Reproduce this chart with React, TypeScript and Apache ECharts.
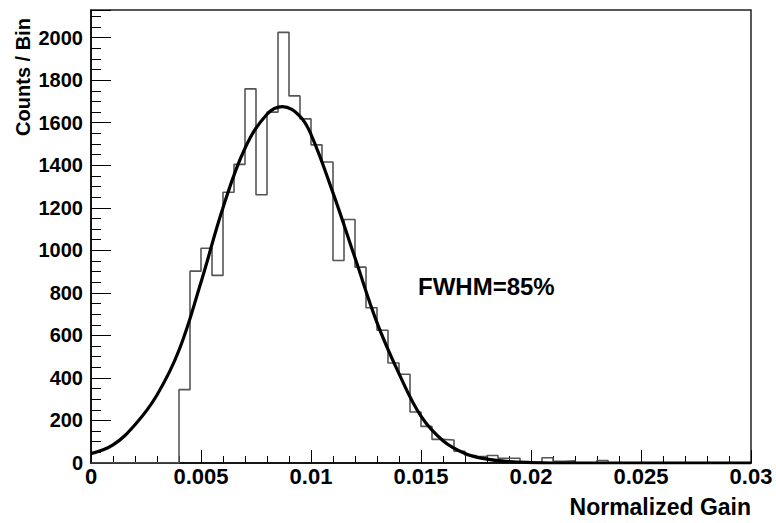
import React, { useEffect, useRef } from "react";
import * as echarts from "echarts";

// Histogram: bin width 0.0005, 60 bins from 0 to 0.03
const binWidth = 0.0005;
const binCounts = [
  0, 0, 0, 0, 0, 0, 0, 0, 345, 902,
  1010, 882, 1273, 1404, 1759, 1261, 1650, 2025, 1726, 1618,
  1496, 1415, 952, 1145, 921, 730, 624, 470, 417, 240,
  172, 111, 108, 55, 35, 30, 35, 22, 22, 0,
  0, 25, 8, 10, 0, 0, 12, 0, 0, 0,
  0, 0, 0, 0, 0, 0, 0, 0, 0, 0,
];

// Fit curve
const fitX = [0, 0.001, 0.002, 0.003, 0.004, 0.005, 0.006, 0.007, 0.008, 0.0087, 0.0095, 0.01, 0.011, 0.012, 0.013, 0.014, 0.015, 0.016, 0.017, 0.018, 0.019, 0.02, 0.021, 0.022, 0.025, 0.03];
const fitY = [44, 85, 180, 320, 530, 850, 1200, 1480, 1640, 1676, 1630, 1545, 1270, 965, 660, 420, 220, 105, 45, 18, 7, 2, 0, 0, 0, 0];

const xTicks = ["0", "0.005", "0.01", "0.015", "0.02", "0.025", "0.03"];
const xTitle = "Normalized Gain";
const yTitle = "Counts / Bin";
const annotation = "FWHM=85%";

const FONT = "'Liberation Sans', Arial, Helvetica, sans-serif";

export default function App() {
  const ref = useRef<HTMLDivElement>(null);
  useEffect(() => {
    if (!ref.current) return;
    const chart = echarts.init(ref.current, null, { renderer: "svg" });
    const histData: [number, number][] = binCounts.map((c, i) => [i * binWidth, c]);
    histData.push([binCounts.length * binWidth, 0]);
    const fitData = fitX.map((x, i) => [x, fitY[i]]);
    chart.setOption({
      animation: false,
      backgroundColor: "#fff",
      grid: {
        left: 91,
        right: 25,
        top: 10,
        bottom: 60,
        show: true,
        borderColor: "#222",
        borderWidth: 1.5,
        backgroundColor: "transparent",
      },
      xAxis: {
        type: "value",
        min: 0,
        max: 0.03,
        interval: 0.005,
        axisLine: { show: true, onZero: false, lineStyle: { color: "#000", width: 1.5 } },
        axisTick: { show: true, inside: true, length: 13, lineStyle: { color: "#000", width: 1 } },
        minorTick: { show: true, splitNumber: 5, length: 7, lineStyle: { color: "#000", width: 1 } },
        splitLine: { show: false },
        axisLabel: {
          show: true,
          margin: 2,
          fontSize: 22,
          fontWeight: "bold",
          fontFamily: FONT,
          color: "#000",
          formatter: (v: number) => {
            const idx = Math.round(v / 0.005);
            return xTicks[idx] ?? "";
          },
        },
      },
      yAxis: {
        type: "value",
        min: 0,
        max: 2130,
        interval: 200,
        axisLine: { show: true, onZero: false, lineStyle: { color: "#000", width: 1.5 } },
        axisTick: { show: true, inside: true, length: 20, lineStyle: { color: "#000", width: 1 } },
        minorTick: { show: true, splitNumber: 4, length: 10, lineStyle: { color: "#000", width: 1 } },
        splitLine: { show: false },
        axisLabel: {
          show: true,
          margin: 8,
          fontSize: 20,
          fontWeight: "bold",
          fontFamily: FONT,
          color: "#000",
          showMaxLabel: false,
          formatter: (v: number) => (v % 200 === 0 ? String(v) : ""),
        },
      },
      series: [
        {
          type: "line",
          data: histData,
          step: "end",
          symbol: "none",
          lineStyle: { color: "#555", width: 1.6 },
          z: 2,
        },
        {
          type: "line",
          data: fitData,
          smooth: 0.4,
          symbol: "none",
          lineStyle: { color: "#000", width: 3.2 },
          z: 3,
        },
      ],
      graphic: [
        {
          type: "text",
          x: 23,
          y: 77,
          rotation: Math.PI / 2,
          style: {
            text: yTitle,
            fontSize: 20,
            fontWeight: "bold",
            fontFamily: FONT,
            fill: "#000",
            textAlign: "center",
            textVerticalAlign: "middle",
          },
        },
        {
          type: "text",
          x: 751,
          y: 507,
          style: {
            text: xTitle,
            fontSize: 23,
            fontWeight: "bold",
            fontFamily: FONT,
            fill: "#000",
            textAlign: "right",
            textVerticalAlign: "middle",
          },
        },
        {
          type: "text",
          x: 418,
          y: 286,
          style: {
            text: annotation,
            fontSize: 24,
            fontWeight: "bold",
            fontFamily: FONT,
            fill: "#000",
            textAlign: "left",
            textVerticalAlign: "middle",
          },
        },
      ],
    });
    return () => chart.dispose();
  }, []);
  return (
    <div
      ref={ref}
      style={{ position: "fixed", left: 0, top: 0, width: 776, height: 523, background: "#fff" }}
    />
  );
}
